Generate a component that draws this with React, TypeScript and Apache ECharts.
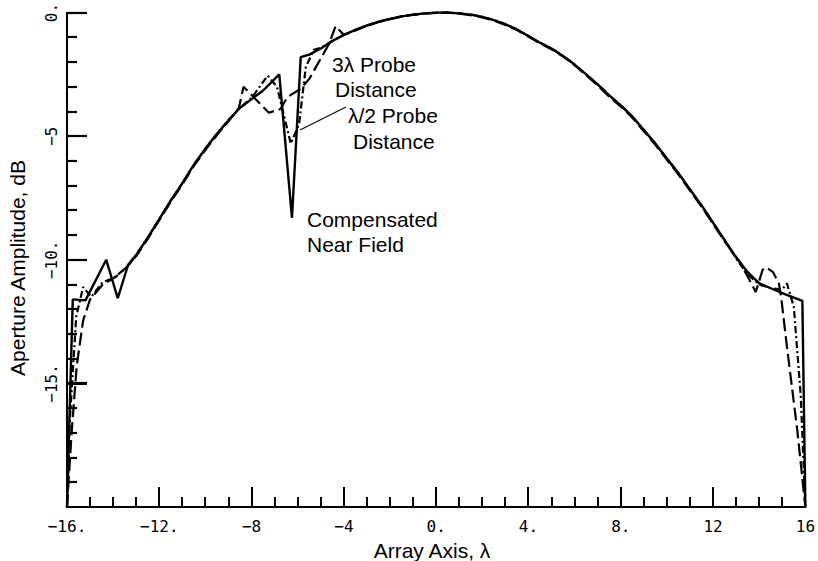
import React, { useEffect, useRef } from "react";
import * as echarts from "echarts";

// Compensated Near Field (solid)
const solidX = [-16, -15.75, -15.2, -14.3, -13.8, -13.35, -13, -12.5, -12, -11.5, -11, -10.5, -10, -9.5, -9, -8.5, -8, -7.5, -6.8, -6.25, -5.87, -5.5, -5, -4.5, -4, -3.5, -3, -2.5, -2, -1.5, -1, -0.5, 0, 0.5, 1, 1.5, 2, 2.5, 3, 3.5, 4, 4.5, 5, 5.5, 6, 6.5, 7, 7.5, 8, 8.5, 9, 9.5, 10, 10.5, 11, 11.5, 12, 12.5, 13, 13.5, 14, 14.5, 15, 15.87, 16];
const solidY = [-20, -11.6, -11.64, -10.0, -11.55, -10.2, -9.8, -9.1, -8.35, -7.6, -6.9, -6.15, -5.5, -4.9, -4.35, -3.85, -3.5, -3.15, -2.5, -8.3, -1.8, -1.7, -1.45, -1.15, -0.9, -0.7, -0.52, -0.37, -0.25, -0.15, -0.08, -0.03, 0, 0, -0.03, -0.08, -0.17, -0.3, -0.47, -0.68, -0.95, -1.22, -1.45, -1.75, -2.1, -2.5, -2.9, -3.35, -3.75, -4.2, -4.75, -5.3, -5.9, -6.5, -7.15, -7.8, -8.5, -9.2, -9.9, -10.5, -10.95, -11.15, -11.35, -11.66, -20];

// 3λ Probe Distance (long dash)
const longX = [-16, -15.8, -15.58, -15.3, -15.0, -14.45, -13.9, -13.42, -13, -12.5, -12, -11.5, -11, -10.5, -10, -9.5, -9, -8.55, -8.35, -7.25, -6.75, -6.45, -5.87, -5.5, -4.64, -4.36, -4, -3.5, -3, -2.5, -2, -1.5, -1, -0.5, 0, 0.5, 1, 1.5, 2, 2.5, 3, 3.5, 4, 4.5, 5, 5.5, 6, 6.5, 7, 7.5, 8, 8.5, 9, 9.5, 10, 10.5, 11, 11.5, 12, 12.5, 13.2, 13.85, 14.15, 14.3, 14.6, 14.85, 14.95, 15.2, 15.65, 16];
const longY = [-20, -17, -14.3, -12.45, -11.6, -11.0, -10.7, -10.3, -9.85, -9.15, -8.4, -7.65, -6.95, -6.2, -5.55, -4.95, -4.4, -3.85, -3.0, -4.05, -3.9, -3.42, -3.08, -2.68, -1.26, -0.55, -0.9, -0.72, -0.53, -0.38, -0.26, -0.16, -0.09, -0.04, -0.01, 0, -0.04, -0.1, -0.19, -0.32, -0.5, -0.7, -0.97, -1.25, -1.48, -1.78, -2.13, -2.53, -2.95, -3.4, -3.8, -4.25, -4.8, -5.35, -5.95, -6.55, -7.2, -7.85, -8.55, -9.25, -10.15, -11.3, -10.4, -10.3, -10.5, -10.95, -11.5, -13.5, -16.9, -20];

// λ/2 Probe Distance (dash-dot)
const halfX = [-16, -15.87, -15.6, -15.3, -14.95, -14.45, -14, -13.4, -13, -12.5, -12, -11.5, -11, -10.5, -10, -9.5, -9, -8.5, -8, -7.3, -6.9, -6.3, -5.94, -5.65, -5.3, -5, -4.5, -4, -3.5, -3, -2.5, -2, -1.5, -1, -0.5, 0, 0.5, 1, 1.5, 2, 2.5, 3, 3.5, 4, 4.5, 5, 5.5, 6, 6.5, 7, 7.5, 8, 8.5, 9, 9.5, 10, 10.5, 11, 11.5, 12, 12.5, 13, 13.5, 14, 14.5, 15, 15.2, 15.5, 15.8, 16];
const halfY = [-20, -16.35, -12.3, -11.1, -11.5, -10.9, -10.75, -10.3, -9.8, -9.1, -8.35, -7.6, -6.9, -6.15, -5.5, -4.9, -4.35, -3.85, -3.45, -2.55, -3.0, -5.3, -4.5, -2.2, -1.5, -1.42, -1.15, -0.9, -0.7, -0.52, -0.37, -0.25, -0.15, -0.08, -0.03, 0, 0, -0.03, -0.08, -0.17, -0.3, -0.47, -0.68, -0.95, -1.22, -1.45, -1.75, -2.1, -2.5, -2.9, -3.35, -3.75, -4.2, -4.75, -5.3, -5.9, -6.5, -7.15, -7.8, -8.5, -9.2, -9.95, -10.6, -11.0, -11.15, -11.2, -10.95, -11.9, -15.5, -20];

// Axis tick positions and labels
const xMajorTicks = [-16, -12, -8, -4, 0, 4, 8, 12, 16];
const xMinorTicks = [-15, -14, -13, -11, -10, -9, -7, -6, -5, -3, -2, -1, 1, 2, 3, 5, 6, 7, 9, 10, 11, 13, 14, 15];
const yMajorTicks = [0, -5, -10, -15];
const yMinorTicks = [-1, -2, -3, -4, -6, -7, -8, -9, -11, -12, -13, -14, -16, -17, -18, -19];

const xTickLabels: Record<string, string> = {
  "-16": "−16.", "-12": "−12.", "-8": "−8", "-4": "−4", "0": "0.", "4": "4.", "8": "8.", "12": "12", "16": "16",
};
const yTickLabels: Record<string, string> = {
  "0": "0.", "-5": "−5", "-10": "−10.", "-15": "−15.", "-20": "",
};

const X_MIN = -16;
const Y_MIN = -20;
const TICK_W = 2;

const zip = (xs: number[], ys: number[]) => xs.map((x, i) => [x, ys[i]]);

// Custom series drawing ticks; "vertical" = tick on the x axis pointing up
function tickSeries(values: number[], onXAxis: boolean, len: number) {
  return {
    type: "custom",
    silent: true,
    clip: false,
    z: 10,
    data: values.map((v) => (onXAxis ? [v, Y_MIN] : [X_MIN, v])),
    renderItem: (_p: any, api: any) => {
      const pt = api.coord([api.value(0), api.value(1)]);
      if (onXAxis) {
        return {
          type: "rect",
          shape: { x: Math.round(pt[0]) - TICK_W / 2, y: pt[1] - len, width: TICK_W, height: len },
          style: { fill: "#000" },
        };
      }
      return {
        type: "polyline",
        shape: { points: [[pt[0], Math.round(pt[1])], [pt[0] + len, Math.round(pt[1])]] },
        style: { stroke: "#000", lineWidth: 2.2, fill: null },
      };
    },
  };
}

export default function App() {
  const ref = useRef<HTMLDivElement>(null);
  useEffect(() => {
    if (!ref.current) return;
    const chart = echarts.init(ref.current, undefined, { renderer: "svg" });
    const font = "Liberation Sans, Arial, Helvetica, sans-serif";
    chart.setOption({
      animation: false,
      backgroundColor: "#fff",
      grid: { left: 67, right: 10, top: 12, bottom: 54, containLabel: false },
      xAxis: {
        type: "value",
        min: -16,
        max: 16,
        interval: 4,
        axisLine: { show: true, onZero: false, lineStyle: { color: "#000", width: 2 } },
        axisTick: { show: false },
        splitLine: { show: false },
        axisLabel: {
          show: true,
          margin: 11,
          showMinLabel: true,
          showMaxLabel: true,
          color: "#000",
          fontFamily: "DejaVu Sans Mono",
          fontSize: 16,
          formatter: (v: number) => xTickLabels[String(v)] ?? String(v),
        },
      },
      yAxis: {
        type: "value",
        min: -20,
        max: 0,
        interval: 5,
        axisLine: { show: true, onZero: false, lineStyle: { color: "#000", width: 2 } },
        axisTick: { show: true, inside: true, length: 20, lineStyle: { color: "#000", width: 2 } },
        splitLine: { show: false },
        axisLabel: {
          show: true,
          rotate: 90,
          margin: 8,
          showMinLabel: true,
          showMaxLabel: true,
          color: "#000",
          fontFamily: "DejaVu Sans Mono",
          fontSize: 16,
          formatter: (v: number) => yTickLabels[String(v)] ?? String(v),
        },
      },
      series: [
        {
          name: "Compensated Near Field",
          type: "line",
          data: zip(solidX, solidY),
          showSymbol: false,
          symbol: "none",
          clip: false,
          lineStyle: { color: "#000", width: 2.4, type: "solid" },
          z: 3,
        },
        {
          name: "3λ Probe Distance",
          type: "line",
          data: zip(longX, longY),
          showSymbol: false,
          symbol: "none",
          clip: false,
          lineStyle: { color: "#000", width: 2.2, type: [13, 5] },
          z: 2,
        },
        {
          name: "λ/2 Probe Distance",
          type: "line",
          data: zip(halfX, halfY),
          showSymbol: false,
          symbol: "none",
          clip: false,
          lineStyle: { color: "#000", width: 2.2, type: [7, 3, 2, 3] },
          z: 2,
        },
        tickSeries(xMajorTicks, true, 20),
        tickSeries(xMinorTicks, true, 10),
        tickSeries(yMajorTicks, false, 20),
        tickSeries(yMinorTicks, false, 10),
      ],
      graphic: [
        { type: "text", x: 432, y: 550, style: { text: "Array Axis, λ", fontFamily: font, fontSize: 21, fill: "#000", align: "center", verticalAlign: "middle" } },
        { type: "text", x: 17, y: 268, rotation: Math.PI / 2, style: { text: "Aperture Amplitude, dB", fontFamily: font, fontSize: 21, fill: "#000", align: "center", verticalAlign: "middle" } },
        { type: "text", x: 332, y: 64, style: { text: "3λ Probe", fontFamily: font, fontSize: 21, fill: "#000", align: "left", verticalAlign: "middle" } },
        { type: "text", x: 335, y: 89, style: { text: "Distance", fontFamily: font, fontSize: 21, fill: "#000", align: "left", verticalAlign: "middle" } },
        { type: "text", x: 348, y: 115, style: { text: "λ/2 Probe", fontFamily: font, fontSize: 21, fill: "#000", align: "left", verticalAlign: "middle" } },
        { type: "text", x: 353, y: 141, style: { text: "Distance", fontFamily: font, fontSize: 21, fill: "#000", align: "left", verticalAlign: "middle" } },
        { type: "text", x: 307, y: 219, style: { text: "Compensated", fontFamily: font, fontSize: 21, fill: "#000", align: "left", verticalAlign: "middle" } },
        { type: "text", x: 307, y: 244, style: { text: "Near Field", fontFamily: font, fontSize: 21, fill: "#000", align: "left", verticalAlign: "middle" } },
        { type: "line", shape: { x1: 346, y1: 107, x2: 300, y2: 130 }, style: { stroke: "#000", lineWidth: 1.2 } },
      ],
    });
    return () => chart.dispose();
  }, []);
  return (
    <div
      ref={ref}
      style={{ position: "absolute", left: 0, top: 0, width: 818, height: 561, background: "#fff" }}
    />
  );
}
